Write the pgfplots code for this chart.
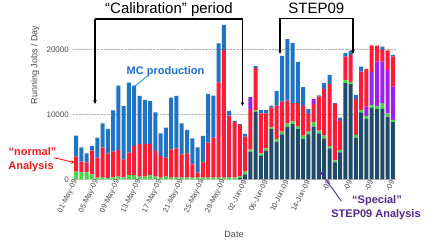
\documentclass[border=0pt]{standalone}
\usepackage{fontspec}
\setmainfont{Liberation Sans}
\usepackage{pgfplots}
\usepackage{pgfplotstable}
\pgfplotsset{compat=1.18}
\usetikzlibrary{arrows.meta}
\definecolor{cnavy}{HTML}{1E4B69}
\definecolor{cgreen}{HTML}{4CD24C}
\definecolor{cred}{HTML}{FF1A35}
\definecolor{cpurple}{HTML}{A01EF0}
\definecolor{cblue}{HTML}{1F74C4}
\definecolor{mctext}{HTML}{1A6FD8}
\definecolor{mcline}{HTML}{1EA0C8}
\definecolor{normtext}{HTML}{F01A1A}
\definecolor{spectext}{HTML}{502A8C}
\definecolor{labgray}{HTML}{4A4A4A}
\pgfplotstableread{
x navy green pa red pb blue
1 0 1170 0 2310 0 3220
2 0 1080 0 1630 0 2220
3 0 1050 0 1510 0 1440
4 0 770 0 3630 0 730
5 0 250 0 3080 0 3070
6 0 250 0 4620 0 3750
7 0 200 0 3800 0 3740
8 0 300 0 3950 0 6370
9 0 400 0 4110 0 9910
10 0 300 0 2780 0 8210
11 0 660 0 3440 0 10780
12 0 660 0 4470 0 9290
13 0 400 0 5040 0 7390
14 0 400 0 5040 0 6770
15 0 660 0 4780 0 6620
16 0 400 0 3960 0 5950
17 0 250 0 3340 0 3490
18 0 400 0 2930 0 4620
19 0 250 0 4370 0 7950
20 0 250 0 4520 0 8060
21 0 250 0 3600 0 4770
22 0 250 0 3750 0 3590
23 0 250 0 2060 0 4000
24 0 250 0 770 0 3910
25 0 250 0 2370 0 4050
26 0 250 0 5390 0 7500
27 0 250 0 6160 0 6470
28 0 250 0 14630 0 6020
29 0 250 0 19650 0 3860
30 0 250 0 9550 0 720
31 0 250 0 8530 0 220
32 200 300 0 7860 0 140
33 770 400 0 5390 0 420
34 4250 370 0 6210 1800 0
35 10400 200 0 6490 0 310
36 3590 410 0 6160 0 510
37 4400 370 0 5390 0 510
38 7700 300 0 3030 0 310
39 5790 410 0 5140 0 2260
40 6930 400 0 4620 0 7050
41 8050 510 0 3540 0 9480
42 8470 430 0 2800 0 9300
43 7700 400 0 3600 0 6360
44 6200 510 0 4580 0 2880
45 6930 400 0 2730 0 740
46 8100 680 0 2770 800 0
47 7080 420 0 5220 0 180
48 6310 390 0 7160 0 970
49 4770 330 0 9530 0 1430
50 2620 280 0 8700 0 100
51 4160 340 0 4480 0 510
52 14800 500 0 3580 0 570
53 14630 370 0 4100 0 680
54 6410 410 0 5550 0 610
55 10310 360 0 5900 0 770
56 9290 410 1480 5820 0 0
57 11030 410 5040 4120 0 0
58 10830 420 6860 2440 0 0
59 10830 870 6410 1800 0 510
60 9640 520 6670 3020 0 0
61 8780 350 5130 4620 0 260
}\jobs
\begin{document}
\begin{tikzpicture}[x=1pt,y=1pt]
\useasboundingbox (0,0) rectangle (436,240);
\begin{axis}[
  at={(73pt,60.7pt)}, anchor=south west,
  scale only axis, width=323pt, height=162.5pt,
  xmin=0.4, xmax=61.6, ymin=0, ymax=25000,
  ybar stacked, bar width=4pt,
  axis x line*=bottom, axis y line*=left,
  x axis line style={draw=black!20, line width=1.2pt},
  y axis line style={draw=none},
  xtick={1,5,...,61},
  xticklabels={01-May-09,05-May-09,09-May-09,13-May-09,17-May-09,21-May-09,25-May-09,29-May-09,02-Jun-09,06-Jun-09,10-Jun-09,14-Jun-09,18-Jun-09,22-Jun-09,26-Jun-09,30-Jun-09},
  xticklabel style={font=\fontsize{7.5}{8}\selectfont, text=labgray, rotate=64, anchor=east, inner sep=1pt},
  ytick={0,10000,20000},
  scaled y ticks=false,
  yticklabel style={font=\fontsize{8}{9}\selectfont, text=labgray, inner sep=1pt, xshift=-3pt},
  /pgf/number format/assume math mode=true,
  /pgf/number format/1000 sep={},
  major tick length=0pt,
  ymajorgrids, grid style={densely dotted, draw=black!30, line width=0.6pt},
  every axis plot/.append style={draw=none},
]
\addplot[fill=cnavy] table[x=x,y=navy]{\jobs};
\addplot[fill=cgreen] table[x=x,y=green]{\jobs};
\addplot[fill=cpurple] table[x=x,y=pa]{\jobs};
\addplot[fill=cred] table[x=x,y=red]{\jobs};
\addplot[fill=cpurple] table[x=x,y=pb]{\jobs};
\addplot[fill=cblue] table[x=x,y=blue]{\jobs};
\end{axis}
% y label
\node[rotate=90, font=\fontsize{9}{10}\selectfont, text=labgray] at (35,175) {Running Jobs / Day};
% x label
\node[font=\fontsize{9}{10}\selectfont, text=labgray] at (234,6) {Date};
% brackets
\draw[line width=1.1pt, -{Stealth[length=4pt,width=3.5pt]}] (95,221) -- (95,136);
\draw[line width=1.1pt] (95,221) -- (242.5,221);
\draw[line width=1.1pt, -{Stealth[length=4pt,width=3.5pt]}] (242.5,221) -- (242.5,134);
\node[anchor=base, font=\fontsize{15}{16}\selectfont] at (169,226.5) {“Calibration” period};
\draw[line width=1.1pt, -{Stealth[length=4pt,width=3.5pt]}] (280,221.5) -- (280,186);
\draw[line width=1.1pt] (280,221.5) -- (353,221.5);
\draw[line width=1.1pt, -{Stealth[length=4pt,width=3.5pt]}] (353,221.5) -- (353,186);
\node[anchor=base, font=\fontsize{15}{16}\selectfont] at (316.4,226) {STEP09};
% MC production
\draw[mcline, line width=0.9pt] (149,165) -- (134,153.3);
\node[anchor=base, font=\fontsize{11}{12}\selectfont\bfseries, text=mctext] at (165.5,165) {MC production};
% normal analysis
\node[anchor=base, font=\fontsize{11}{12}\selectfont\bfseries, text=normtext] at (32.5,84.3) {“normal”};
\node[anchor=base, font=\fontsize{11}{12}\selectfont\bfseries, text=normtext] at (31,70.5) {Analysis};
\draw[normtext, line width=0.9pt, -{Stealth[length=4pt,width=3.5pt]}] (54,82.3) -- (75,77.3);
% special analysis
\fill[white] (311,14) rectangle (436,50);
\draw[spectext, line width=0.9pt, -{Stealth[length=4pt,width=3.5pt]}] (341.3,39) -- (320,68.5);
\node[anchor=base, font=\fontsize{11}{12}\selectfont\bfseries, text=spectext] at (377,36.7) {“Special”};
\node[anchor=base, font=\fontsize{11}{12}\selectfont\bfseries, text=spectext] at (376,22.3) {STEP09 Analysis};
\end{tikzpicture}
\end{document}
